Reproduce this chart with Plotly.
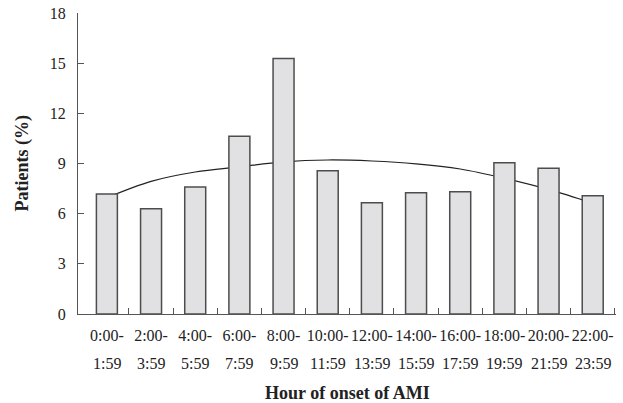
import plotly.graph_objects as go

line1 = ["0:00-", "2:00-", "4:00-", "6:00-", "8:00-", "10:00-", "12:00-", "14:00-",
         "16:00-", "18:00-", "20:00-", "22:00-"]
line2 = ["1:59", "3:59", "5:59", "7:59", "9:59", "11:59", "13:59", "15:59",
         "17:59", "19:59", "21:59", "23:59"]
patients = [7.18, 6.3, 7.6, 10.63, 15.28, 8.56, 6.65, 7.25, 7.31, 9.04, 8.72, 7.07]
trend = [6.95, 7.93, 8.49, 8.8, 9.1, 9.21, 9.15, 8.98, 8.67, 8.12, 7.45, 6.62]
y_ticks = [0, 3, 6, 9, 12, 15, 18]

idx = list(range(len(line1)))
FONT = "Liberation Serif"
AX = "#555555"
XR = [-0.654, 11.527]

fig = go.Figure()
fig.add_trace(go.Scatter(x=idx, y=trend, mode="lines", line=dict(color="#222222", width=1.2, shape="spline"),
                         xaxis="x", yaxis="y", showlegend=False, hoverinfo="skip"))
fig.add_trace(go.Bar(x=idx, y=patients, width=0.475, marker=dict(color="#e1e1e3", line=dict(color="#4d4d4d", width=1.5)),
                     xaxis="x2", yaxis="y2", showlegend=False))

for j, t in enumerate(line2):
    fig.add_annotation(x=j, y=0, xref="x", yref="y", text=t, showarrow=False, yshift=-49,
                       font=dict(family=FONT, size=16, color="#222222"))

fig.add_annotation(x=0.5, y=-79 / 302, xref="paper", yref="paper", text="<b>Hour of onset of AMI</b>",
                   showarrow=False, yanchor="middle", font=dict(family=FONT, size=18, color="#222222"))
fig.add_annotation(x=-56 / 538, y=0.5, xref="paper", yref="paper", text="<b>Patients (%)</b>", textangle=-90,
                   showarrow=False, xanchor="center", font=dict(family=FONT, size=18, color="#222222"))

fig.update_layout(
    width=623, height=403,
    margin=dict(l=78, r=7, t=13, b=89, autoexpand=False),
    plot_bgcolor="white", paper_bgcolor="white",
    font=dict(family=FONT, size=16, color="#222222"),
    xaxis=dict(range=XR, tickmode="array", tickvals=idx, ticktext=line1, ticks="", automargin=False,
               showline=True, linecolor=AX, linewidth=1.3, showgrid=False, zeroline=False,
               ticklabelstandoff=7),
    yaxis=dict(range=[0, 18], tickmode="array", tickvals=y_ticks, ticks="inside", ticklen=6, automargin=False,
               tickcolor=AX, tickwidth=1.2, showline=True, linecolor=AX, linewidth=1.3,
               showgrid=False, zeroline=False, ticklabelstandoff=8),
    xaxis2=dict(range=XR, overlaying="x", anchor="y2", side="bottom", automargin=False,
                tickmode="array", tickvals=[i + 0.5 for i in idx], ticks="inside", ticklen=6,
                tickcolor=AX, tickwidth=1.2, showticklabels=False, showline=False, showgrid=False, zeroline=False),
    yaxis2=dict(range=[0, 18], overlaying="y", visible=False),
)

fig.write_html("out.html", config={"displayModeBar": False},
               post_script="document.body.style.margin='0';")
